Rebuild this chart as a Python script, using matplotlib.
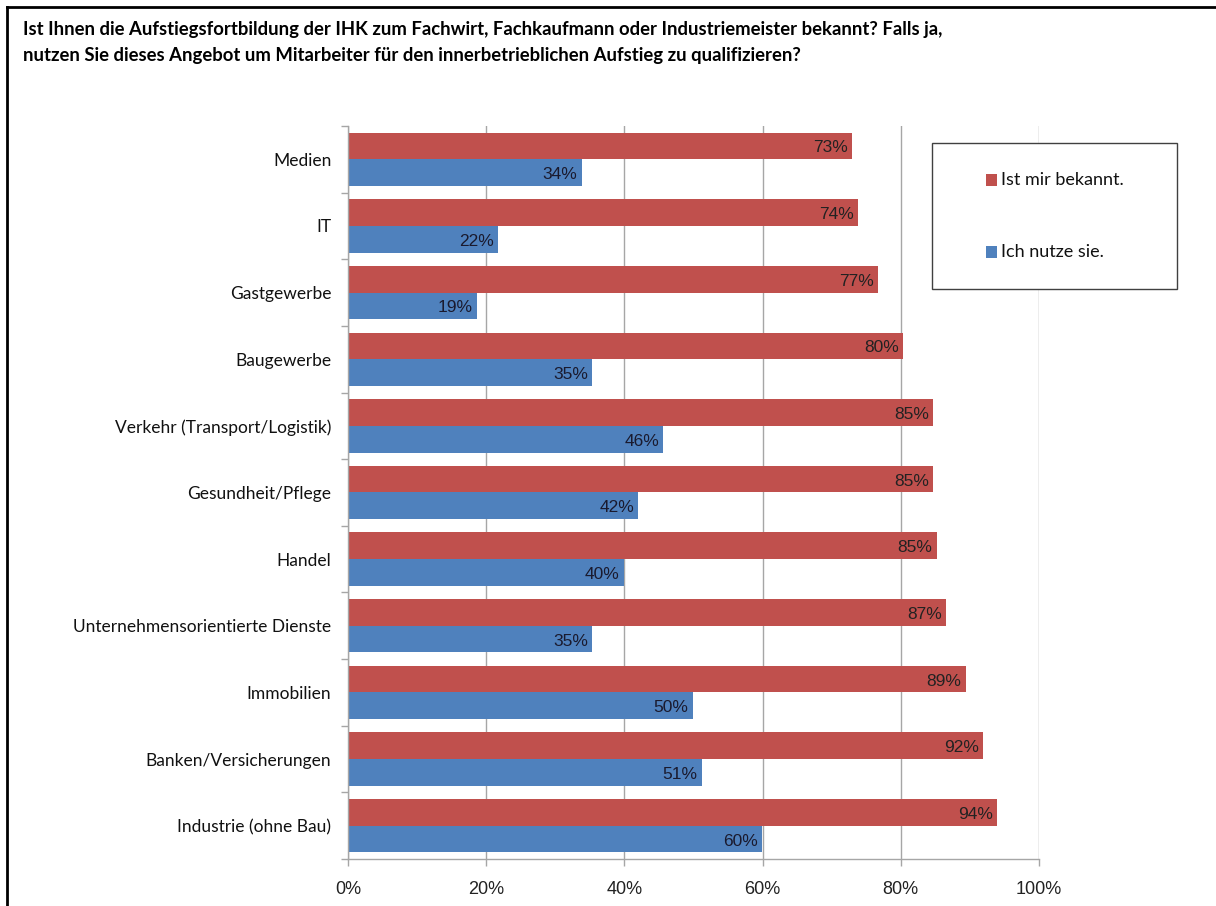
import matplotlib
matplotlib.use("Agg")
import matplotlib.pyplot as plt
from matplotlib.lines import Line2D
from matplotlib.patches import Rectangle

categories = ["Medien", "IT", "Gastgewerbe", "Baugewerbe", "Verkehr (Transport/Logistik)",
              "Gesundheit/Pflege", "Handel", "Unternehmensorientierte Dienste", "Immobilien",
              "Banken/Versicherungen", "Industrie (ohne Bau)"]
bekannt = [73.0, 73.8, 76.7, 80.3, 84.7, 84.7, 85.2, 86.6, 89.4, 91.9, 93.9]
nutze = [33.8, 21.7, 18.7, 35.3, 45.6, 42.0, 39.9, 35.3, 49.9, 51.2, 59.9]
xticks = [0, 20, 40, 60, 80, 100]
series_names = ["Ist mir bekannt.", "Ich nutze sie."]

RED = "#c0504d"
BLUE = "#4f81bd"
GRID = "#a6a6a6"
W, H = 1216, 906

fig = plt.figure(figsize=(W / 100, H / 100), dpi=100)
ax = fig.add_axes([348 / W, 1 - 859 / H, (1039 - 348) / W, (859 - 126) / H])

n = len(categories)
ys = list(range(n))
bh = 0.4
red_y = [y - bh / 2 for y in ys]
blue_y = [y + bh / 2 for y in ys]
ax.barh(red_y, bekannt, height=bh, color=RED, zorder=2)
ax.barh(blue_y, nutze, height=bh, color=BLUE, zorder=2)

for yy, v in zip(red_y, bekannt):
    ax.text(v - 0.6, yy + 0.03, f"{round(v)}%", ha="right", va="center",
            fontsize=12.5, color="#222222", family="Liberation Sans", zorder=3)
for yy, v in zip(blue_y, nutze):
    ax.text(v - 0.6, yy + 0.03, f"{round(v)}%", ha="right", va="center",
            fontsize=12.5, color="#1a1a2e", family="Liberation Sans", zorder=3)

ax.set_ylim(n - 0.5, -0.5)
ax.set_xlim(0, 100)
ax.set_xticks(xticks)
ax.set_xticklabels([f"{t}%" for t in xticks], fontsize=13, family="Liberation Sans", color="#222222")
ax.set_yticks(ys)
ax.set_yticklabels(categories, fontsize=12.5, family="Lato", color="#111111")
ax.set_yticks([y - 0.5 for y in range(n + 1)], minor=True)
ax.tick_params(axis="y", which="major", length=0, pad=12)
ax.tick_params(axis="y", which="minor", length=5, color=GRID, width=1)
ax.tick_params(axis="x", which="major", length=5, color=GRID, width=1, pad=11)
ax.grid(axis="x", color=GRID, linewidth=1, zorder=0)
for s in ["top", "right"]:
    ax.spines[s].set_visible(False)
for s in ["left", "bottom"]:
    ax.spines[s].set_color(GRID)
    ax.spines[s].set_linewidth(1)

# legend drawn manually to match its box proportions
fig.add_artist(Rectangle((932 / W, 1 - 289 / H), (1177 - 932) / W, (289 - 143) / H,
                         transform=fig.transFigure, facecolor="white", edgecolor="#404040",
                         linewidth=1, zorder=5))
for name, col, yc in zip(series_names, [RED, BLUE], [180, 252]):
    fig.add_artist(Rectangle((986 / W, 1 - (yc + 6) / H), 11 / W, 12 / H,
                             transform=fig.transFigure, facecolor=col, edgecolor="none", zorder=6))
    fig.text(1001 / W, 1 - yc / H, name, fontsize=13, family="Lato", color="#111111",
             va="center", ha="left", zorder=6)

fig.text(23 / W, 1 - 30 / H,
         "Ist Ihnen die Aufstiegsfortbildung der IHK zum Fachwirt, Fachkaufmann oder Industriemeister bekannt? Falls ja,",
         fontsize=13.3, fontweight="bold", family="Lato", va="center", ha="left")
fig.text(23 / W, 1 - 55 / H,
         "nutzen Sie dieses Angebot um Mitarbeiter für den innerbetrieblichen Aufstieg zu qualifizieren?",
         fontsize=13.3, fontweight="bold", family="Lato", va="center", ha="left")

fig.add_artist(Line2D([7 / W, 7 / W], [0, 1 - 7 / H], transform=fig.transFigure, color="black", linewidth=2))
fig.add_artist(Line2D([7 / W, 1], [1 - 7 / H, 1 - 7 / H], transform=fig.transFigure, color="black", linewidth=2))

fig.savefig("out.png", dpi=100)
